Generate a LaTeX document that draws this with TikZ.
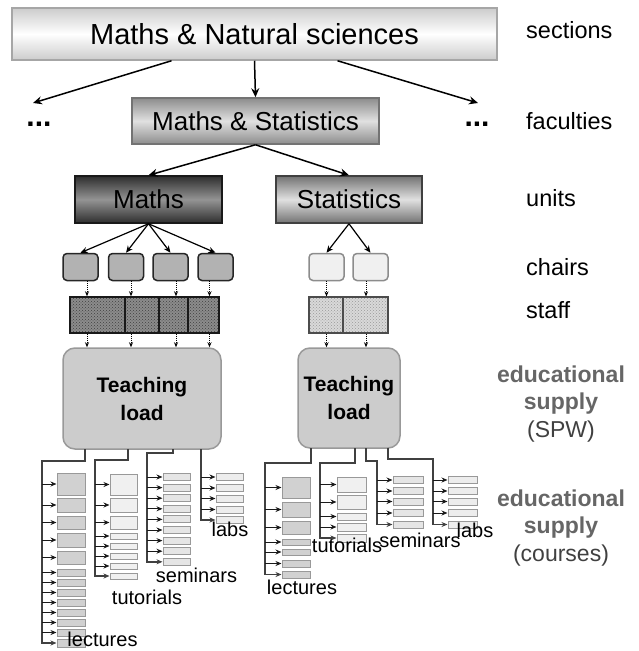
\documentclass[tikz,border=0pt]{standalone}
\usepackage{fontspec}
\setmainfont{Liberation Sans}
\usepackage{xcolor}
\usetikzlibrary{shapes,arrows.meta,positioning,fit,backgrounds,calc,patterns}

\begin{document}
\begin{tikzpicture}[
    x=1pt, y=-1pt,
    secbox/.style={rectangle, draw=black!35, line width=1.5pt, inner sep=0pt,
        top color=black!20, bottom color=black!20, middle color=white,
        font=\fontsize{29}{33}\selectfont},
    facbox/.style={rectangle, draw=black!55, line width=1.5pt, inner sep=0pt,
        top color=black!45, bottom color=black!45, middle color=black!12,
        font=\fontsize{26}{30}\selectfont},
    unitdark/.style={rectangle, draw=black!90, line width=1.5pt, inner sep=0pt,
        top color=black!82, bottom color=black!82, middle color=black!42,
        font=\fontsize{26}{30}\selectfont},
    unitlight/.style={rectangle, draw=black!75, line width=1.5pt, inner sep=0pt,
        top color=black!55, bottom color=black!55, middle color=black!12,
        font=\fontsize{26}{30}\selectfont},
    chairdark/.style={rectangle, rounded corners=4pt, draw=black!85, line width=1.5pt,
        fill=black!30, minimum width=35pt, minimum height=27pt},
    chairlight/.style={rectangle, rounded corners=4pt, draw=black!45, line width=1.5pt,
        fill=black!6, minimum width=35pt, minimum height=27pt},
    staffdark/.style={rectangle, draw=black!90, line width=1.5pt, minimum height=36pt,
        preaction={fill=black!45}, pattern=crosshatch dots, pattern color=black!75},
    stafflight/.style={rectangle, draw=black!70, line width=1.2pt, minimum height=36pt,
        preaction={fill=black!15}, pattern=crosshatch dots, pattern color=black!40},
    load/.style={rectangle, rounded corners=12pt, draw=black!40, line width=1.5pt,
        fill=black!20, align=center, font=\fontsize{21}{28}\selectfont\bfseries},
    lec/.style={rectangle, draw=black!40, line width=1pt, fill=black!18, inner sep=0pt},
    tut/.style={lec, fill=black!6},
    sem/.style={lec, fill=black!10},
    lab/.style={lec, fill=black!7},
    side/.style={anchor=west, inner sep=0pt, font=\fontsize{23.5}{27}\selectfont},
    supply/.style={align=center, inner sep=0pt, text=black!60,
        font=\fontsize{23}{27.5}\selectfont},
    crs/.style={inner sep=0pt, font=\fontsize{20}{22}\selectfont},
    bigarrow/.style={line width=1.5pt, -{Stealth[length=9pt, width=8pt, inset=3pt]}},
    arrow/.style={line width=1.2pt, -{Stealth[length=7pt, width=6pt]}},
    dotarrow/.style={line width=1pt, densely dotted, -{Stealth[length=5pt, width=4pt]}},
    tip/.style={line width=1pt, black!90, -{Stealth[length=6pt, width=5pt]}},
    trunk/.style={line width=1.5pt, black!75, -{Stealth[length=6pt, width=5pt]}}
]
\useasboundingbox (0,0) rectangle (639,651);

% Sections and faculties
\node[secbox, minimum width=485pt, minimum height=52pt] (sec) at (254.5,34) {Maths \& Natural sciences};
\node[facbox, minimum width=247pt, minimum height=46pt] (fac) at (255.5,121) {Maths \& Statistics};
\node[font=\fontsize{30}{30}\selectfont\bfseries] (dotsL) at (39,124) {...};
\node[font=\fontsize{30}{30}\selectfont\bfseries] (dotsR) at (477,124) {...};
\coordinate (endL) at (33,103);
\coordinate (endR) at (478,103);

% Units
\node[unitdark, minimum width=147pt, minimum height=47pt] (maths) at (148.5,199.5) {Maths};
\node[unitlight, minimum width=146pt, minimum height=47pt] (stats) at (349,199.5) {Statistics};

% Chairs
\node[chairdark] (mc1) at (80.5,267) {};
\node[chairdark] (mc2) at (126,267) {};
\node[chairdark] (mc3) at (170.5,267) {};
\node[chairdark] (mc4) at (215.5,267) {};
\node[chairlight] (sc1) at (326.5,267) {};
\node[chairlight] (sc2) at (370.5,267) {};

% Staff
\node[staffdark, minimum width=55pt] (ms1) at (97.5,315) {};
\node[staffdark, minimum width=34pt] (ms2) at (142,315) {};
\node[staffdark, minimum width=29pt] (ms3) at (173.5,315) {};
\node[staffdark, minimum width=31pt] (ms4) at (203.5,315) {};
\node[stafflight, minimum width=34pt] (ss1) at (326,315) {};
\node[stafflight, minimum width=45pt] (ss2) at (365.5,315) {};

% Teaching load
\node[load, minimum width=158pt, minimum height=101pt] (tlM) at (142,398.5) {Teaching\\load};
\node[load, minimum width=102pt, minimum height=100pt] (tlS) at (349,398) {Teaching\\load};

% Level labels
\node[side] (lsec) at (526,30) {sections};
\node[side] (lfac) at (526,121) {faculties};
\node[side] (lunit) at (526,198) {units};
\node[side] (lchair) at (526,267) {chairs};
\node[side] (lstaff) at (526,310) {staff};
\node[supply] (lspw) at (561,404) {\textbf{educational}\\\textbf{supply}\\\textcolor{black!75}{(SPW)}};
\node[supply] (lcrs) at (561,528) {\textbf{educational}\\\textbf{supply}\\\textcolor{black!75}{(courses)}};

% Connections between sections, faculties and units
\draw[bigarrow] ($(sec.south)+(-83,0)$) -- (endL);
\draw[bigarrow] (sec.south) -- (fac.north);
\draw[bigarrow] ($(sec.south)+(83,0)$) -- (endR);
\draw[bigarrow] (fac.south) -- (maths.north);
\draw[bigarrow] (fac.south) -- (stats.north);

% Units to chairs
\foreach \i in {1,...,4}
    \draw[arrow] (maths.south) -- (mc\i.north);
\foreach \i in {1,2}
    \draw[arrow] (stats.south) -- (sc\i.north);

% Chairs to staff to teaching load
\coordinate (ma1) at ($(mc1.south)+(6.5,0)$);
\coordinate (ma2) at ($(mc2.south)+(5,0)$);
\coordinate (ma3) at ($(mc3.south)+(5.5,0)$);
\coordinate (ma4) at ($(mc4.south)+(-6,0)$);
\coordinate (sa1) at ($(sc1.south)+(0,0)$);
\coordinate (sa2) at ($(sc2.south)+(-4.5,0)$);
\foreach \a/\s in {ma1/ms1, ma2/ms2, ma3/ms3, ma4/ms4} {
    \draw[dotarrow] (\a) -- (\a |- \s.north);
    \draw[dotarrow] (\a |- \s.south) -- (\a |- tlM.north);
}
\foreach \a/\s in {sa1/ss1, sa2/ss2} {
    \draw[dotarrow] (\a) -- (\a |- \s.north);
    \draw[dotarrow] (\a |- \s.south) -- (\a |- tlS.north);
}

% Maths courses
\foreach \i/\yc/\h in {1/484/22, 2/505/14, 3/522.5/13, 4/540/14, 5/557.5/13, 6/572.5/7, 7/582.5/7,
    8/592.5/7, 9/602.5/7, 10/612.5/7, 11/622.5/7, 12/632.5/7, 13/643/8}
    \node[lec, minimum width=28pt, minimum height=\h] (ml\i) at (71,\yc) {};
\foreach \i/\yc/\h in {1/484.5/21, 2/505/14, 3/522.5/13, 4/536/6, 5/546/6, 6/556/6, 7/566/6, 8/576/6}
    \node[tut, minimum width=27pt, minimum height=\h] (mt\i) at (123.5,\yc) {};
\foreach \i/\yc in {1/477, 2/487.6, 3/498.2, 4/508.8, 5/519.4, 6/530, 7/540.6, 8/551.2, 9/561.8}
    \node[sem, minimum width=27pt, minimum height=7] (mm\i) at (176.5,\yc) {};
\foreach \i/\yc in {1/477, 2/488, 3/498.5, 4/509.5, 5/520}
    \node[lab, minimum width=27pt, minimum height=7] (mb\i) at (229.5,\yc) {};

\coordinate (mLs) at (85,449);  \coordinate (mLc) at (42,461);
\coordinate (mTs) at (128,449); \coordinate (mTc) at (95,460);
\coordinate (mSs) at (173,449); \coordinate (mSc) at (147,453);
\coordinate (mBs) at (201,449); \coordinate (mBc) at (201,453);
\draw[trunk] (mLs) |- (mLc) |- (ml13.west);
\draw[trunk] (mTs) |- (mTc) |- (mt8.west);
\draw[trunk] (mSs) |- (mSc) |- (mm9.west);
\draw[trunk] (mBs) -- (mBc) |- (mb5.west);
\foreach \i in {1,...,12}
    \draw[tip] (mLc |- ml\i.west) -- (ml\i.west);
\foreach \i in {1,...,7}
    \draw[tip] (mTc |- mt\i.west) -- (mt\i.west);
\foreach \i in {1,...,8}
    \draw[tip] (mSc |- mm\i.west) -- (mm\i.west);
\foreach \i in {1,...,4}
    \draw[tip] (mBc |- mb\i.west) -- (mb\i.west);

\node[crs] (mlname) at (102.5,639) {lectures};
\node[crs] (mtname) at (147,597) {tutorials};
\node[crs] (mmname) at (196.5,575) {seminars};
\node[crs] (mbname) at (230,529) {labs};

% Statistics courses
\foreach \i/\yc/\h in {1/487.5/21, 2/509.5/15, 3/527.5/13, 4/542/6, 5/552/6, 6/563.5/7, 7/574.5/7}
    \node[lec, minimum width=28pt, minimum height=\h] (sl\i) at (296,\yc) {};
\foreach \i/\yc/\h in {1/484.5/15, 2/502/14, 3/516.5/7, 4/527/8, 5/538/8}
    \node[tut, minimum width=29pt, minimum height=\h] (st\i) at (351.5,\yc) {};
\foreach \i/\yc in {1/480, 2/491, 3/501.5, 4/513, 5/524.5}
    \node[sem, minimum width=30pt, minimum height=7] (sm\i) at (408,\yc) {};
\foreach \i/\yc in {1/480, 2/491, 3/501.5, 4/513, 5/524.5}
    \node[lab, minimum width=29pt, minimum height=7] (sb\i) at (462.5,\yc) {};

\coordinate (sLs) at (311,448); \coordinate (sLc) at (265,463);
\coordinate (sTs) at (355,448); \coordinate (sTc) at (320,463);
\coordinate (sSs) at (366,448); \coordinate (sSc) at (377,461);
\coordinate (sBs) at (388,448); \coordinate (sBc) at (433,459);
\draw[trunk] (sLs) |- (sLc) |- (sl7.west);
\draw[trunk] (sTs) |- (sTc) |- (st5.west);
\draw[trunk] (sSs) |- (sSc) |- (sm5.west);
\draw[trunk] (sBs) |- (sBc) |- (sb5.west);
\foreach \i in {1,...,6}
    \draw[tip] (sLc |- sl\i.west) -- (sl\i.west);
\foreach \i in {1,...,4}
    \draw[tip] (sTc |- st\i.west) -- (st\i.west);
\foreach \i in {1,...,4}
    \draw[tip] (sSc |- sm\i.west) -- (sm\i.west);
\foreach \i in {1,...,4}
    \draw[tip] (sBc |- sb\i.west) -- (sb\i.west);

\node[crs] (slname) at (302,587) {lectures};
\node[crs] (stname) at (347,545) {tutorials};
\node[crs] (smname) at (420,540) {seminars};
\node[crs] (sbname) at (475,530) {labs};

\end{tikzpicture}
\end{document}
